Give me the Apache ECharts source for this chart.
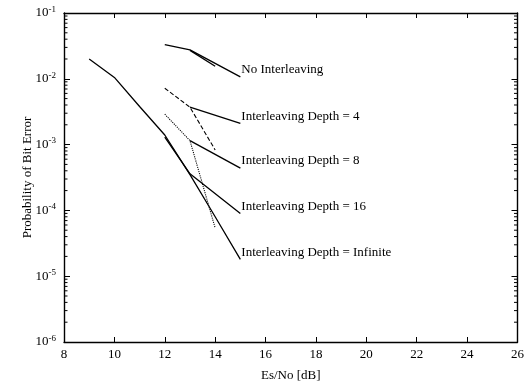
<!DOCTYPE html>
<html>
<head>
<meta charset="utf-8">
<script src="https://cdn.jsdelivr.net/npm/echarts@6/dist/echarts.min.js"></script>
<style>
  html, body { margin: 0; padding: 0; background: #fff; }
  #chart { width: 527px; height: 388px; }
</style>
</head>
<body>
<div id="chart"></div>
<script>
// Es/No [dB] vs bit error probability
const infX = [9, 10, 11, 12, 13, 14, 15];
const infY = [2.0e-2, 1.05e-2, 3.8e-3, 1.4e-3, 3.5e-4, 8.0e-5, 1.8e-5];

const noIntSolidX = [12, 13, 15];
const noIntSolidY = [3.3e-2, 2.75e-2, 1.07e-2];
const noIntSimX = [13, 14];
const noIntSimY = [2.7e-2, 1.55e-2];

const d4SimX = [12, 13, 14];
const d4SimY = [7.2e-3, 3.7e-3, 8.3e-4];
const d4SolidX = [13, 15];
const d4SolidY = [3.7e-3, 2.1e-3];

const d8SimX = [12, 13, 14];
const d8SimY = [2.9e-3, 1.15e-3, 5.4e-5];
const d8SolidX = [13, 15];
const d8SolidY = [1.15e-3, 4.4e-4];

const d16SolidX = [12, 13, 15];
const d16SolidY = [1.3e-3, 3.6e-4, 9.0e-5];

const xTicks = [8, 10, 12, 14, 16, 18, 20, 22, 24, 26];
const yDecades = [-6, -5, -4, -3, -2, -1];
const minorFactors = [2, 3, 4, 5, 6, 7, 8, 9];

const serif = '"Liberation Serif", "DejaVu Serif", serif';
const ink = '#000';
const xMin = xTicks[0];
const xMax = xTicks[xTicks.length - 1];

const pairs = (xs, ys) => xs.map((x, i) => [x, ys[i]]);

const minorTicks = [];
yDecades.slice(0, -1).forEach((e) => {
  minorFactors.forEach((f) => minorTicks.push([xMin, f * Math.pow(10, e)]));
});

const lineSeries = (name, xs, ys, type, label) => ({
  name: name,
  type: 'line',
  data: pairs(xs, ys),
  symbol: 'none',
  silent: true,
  lineStyle: { color: ink, width: type === 'solid' ? 1.3 : 1.1, type: type },
  endLabel: label
    ? {
        show: true,
        formatter: label,
        color: ink,
        fontFamily: serif,
        fontSize: 13,
        distance: 1,
        offset: [0, -7],
      }
    : { show: false },
});

const chart = echarts.init(document.getElementById('chart'));

const supLabel = (v) => {
  const e = Math.round(Math.log10(v));
  return '{b|10}{s|' + e + '}';
};

const richStyle = {
  b: { fontFamily: serif, fontSize: 13, color: ink },
  s: { fontFamily: serif, fontSize: 9, color: ink, padding: [0, 0, 7, 0] },
};

chart.setOption({
  animation: false,
  backgroundColor: '#fff',
  grid: { left: 64, right: 9, top: 13, bottom: 46 },
  xAxis: [
    {
      type: 'value',
      min: xMin,
      max: xMax,
      interval: 2,
      name: 'Es/No [dB]',
      nameLocation: 'middle',
      nameGap: 27,
      nameMoveOverlap: false,
      nameTextStyle: { fontFamily: serif, fontSize: 13, color: ink },
      axisLine: { lineStyle: { color: ink, width: 1.4 } },
      axisTick: { inside: true, length: 5, lineStyle: { color: ink } },
      axisLabel: { fontFamily: serif, fontSize: 13, color: ink, margin: 6 },
      splitLine: { show: false },
    },
    {
      type: 'value',
      position: 'top',
      min: xMin,
      max: xMax,
      interval: 2,
      axisLine: { show: true, lineStyle: { color: ink, width: 1.4 } },
      axisTick: { inside: true, length: 5, lineStyle: { color: ink } },
      axisLabel: { show: false },
      splitLine: { show: false },
    },
  ],
  yAxis: [
    {
      type: 'log',
      logBase: 10,
      min: 1e-6,
      max: 1e-1,
      name: 'Probability of Bit Error',
      nameLocation: 'middle',
      nameGap: 30,
      nameMoveOverlap: false,
      nameTextStyle: { fontFamily: serif, fontSize: 13, color: ink },
      axisLine: { show: true, lineStyle: { color: ink, width: 1.4 } },
      axisTick: { inside: true, length: 6, lineStyle: { color: ink } },
      axisLabel: { formatter: supLabel, rich: richStyle, margin: 8 },
      splitLine: { show: false },
    },
    {
      type: 'log',
      logBase: 10,
      position: 'right',
      min: 1e-6,
      max: 1e-1,
      axisLine: { show: true, lineStyle: { color: ink, width: 1.4 } },
      axisTick: { inside: true, length: 6, lineStyle: { color: ink } },
      axisLabel: { show: false },
      splitLine: { show: false },
    },
  ],
  series: [
    {
      type: 'custom',
      silent: true,
      data: minorTicks,
      encode: { x: 0, y: 1 },
      renderItem: (params, api) => {
        const v = api.value(1);
        const l = api.coord([xMin, v]);
        const r = api.coord([xMax, v]);
        const st = { stroke: ink, lineWidth: 1 };
        return {
          type: 'group',
          children: [
            { type: 'line', shape: { x1: l[0], y1: l[1], x2: l[0] + 3.5, y2: l[1] }, style: st },
            { type: 'line', shape: { x1: r[0], y1: r[1], x2: r[0] - 3.5, y2: r[1] }, style: st },
          ],
        };
      },
    },
    lineSeries('inf', infX, infY, 'solid', 'Interleaving Depth = Infinite'),
    lineSeries('noInt', noIntSolidX, noIntSolidY, 'solid', 'No Interleaving'),
    lineSeries('noIntSim', noIntSimX, noIntSimY, 'solid'),
    lineSeries('d4sim', d4SimX, d4SimY, 'dashed'),
    lineSeries('d4', d4SolidX, d4SolidY, 'solid', 'Interleaving Depth = 4'),
    lineSeries('d8sim', d8SimX, d8SimY, 'dotted'),
    lineSeries('d8', d8SolidX, d8SolidY, 'solid', 'Interleaving Depth = 8'),
    lineSeries('d16', d16SolidX, d16SolidY, 'solid', 'Interleaving Depth = 16'),
  ],
});
</script>
</body>
</html>
